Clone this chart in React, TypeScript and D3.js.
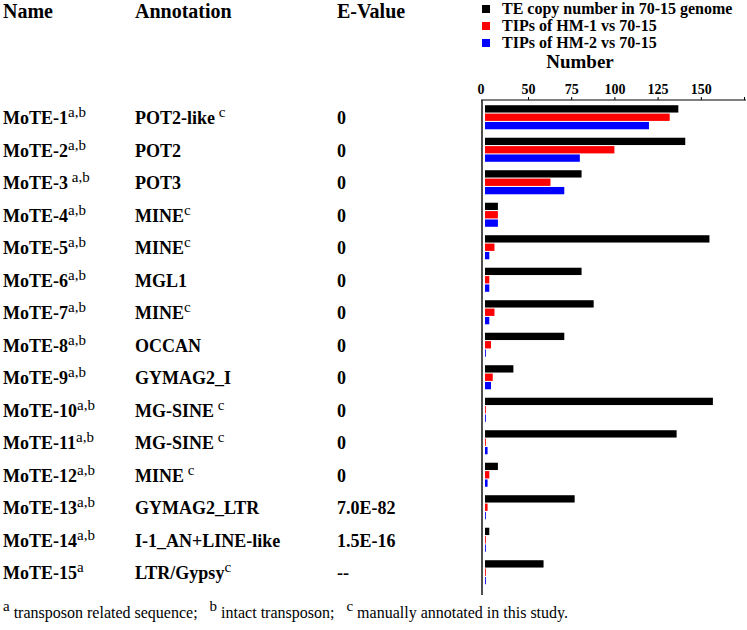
import React, { useEffect, useRef } from "react"
import * as d3 from "d3"

// rows of the table
const names = ["MoTE-1", "MoTE-2", "MoTE-3", "MoTE-4", "MoTE-5", "MoTE-6", "MoTE-7", "MoTE-8",
  "MoTE-9", "MoTE-10", "MoTE-11", "MoTE-12", "MoTE-13", "MoTE-14", "MoTE-15"]
const nameSup = ["a,b", "a,b", " a,b", "a,b", "a,b", "a,b", "a,b", "a,b", "a,b", "a,b", "a,b", "a,b", "a,b", "a,b", "a"]
const annotations = ["POT2-like", "POT2", "POT3", "MINE", "MINE", "MGL1", "MINE", "OCCAN", "GYMAG2_I",
  "MG-SINE", "MG-SINE", "MINE", "GYMAG2_LTR", "I-1_AN+LINE-like", "LTR/Gypsy"]
const annotSup = [" c", "", "", "c", "c", "", "c", "", "", " c", " c", " c", "", "", "c"]
const evalues = ["0", "0", "0", "0", "0", "0", "0", "0", "0", "0", "0", "0", "7.0E-82", "1.5E-16", "--"]

// bars
const series = ["TE copy number in 70-15 genome", "TIPs of HM-1 vs 70-15", "TIPs of HM-2 vs 70-15"]
const copyNumber = [137, 141, 81, 15, 155, 81, 88, 71, 33, 157, 136, 15, 77, 5, 59]
const tipsHM1 = [132, 100, 63, 15, 11, 5, 11, 7, 9, 1, 1, 5, 3, 1, 1]
const tipsHM2 = [120, 80, 71, 15, 5, 5, 5, 1, 7, 1, 3, 3, 1, 1, 1]
const colors = ["#000000", "#ff0000", "#0000ff"]
const tickValues = [0, 50, 75, 100, 125, 150, 175]

const serif = "'Liberation Serif', 'Times New Roman', serif"

export default function App() {
  const ref = useRef<SVGSVGElement>(null)

  useEffect(() => {
    const svg = d3.select(ref.current)
    svg.selectAll("*").remove()

    // the axis of the original is broken: 0..50 squeezed, then 25 per step
    const x = d3.scaleLinear().domain([0, 50, 175]).range([485, 528, 744])
    const y = d3.scaleBand<string>()
      .domain(names)
      .range([101, 588.5])
      .paddingInner(0.26)
      .paddingOuter(0.13)
    const sub = d3.scaleBand<number>()
      .domain([0, 1, 2])
      .range([0, y.bandwidth()])
      .paddingInner(0.125)

    // headers
    const head = svg.append("g")
      .style("font-family", serif)
      .style("font-weight", "bold")
      .style("font-size", "20px")
    head.append("text").attr("x", 3).attr("y", 18).text("Name")
    head.append("text").attr("x", 135).attr("y", 18).text("Annotation")
    head.append("text").attr("x", 337).attr("y", 18).text("E-Value")

    // legend
    const legend = svg.append("g")
      .style("font-family", serif)
      .style("font-weight", "bold")
      .style("font-size", "16px")
    series.forEach((s, i) => {
      legend.append("rect")
        .attr("x", 482).attr("y", 5 + i * 17)
        .attr("width", 8).attr("height", 8)
        .attr("fill", colors[i])
      legend.append("text")
        .attr("x", 502).attr("y", 14 + i * 17)
        .text(s)
    })
    svg.append("text")
      .attr("x", 580).attr("y", 68)
      .attr("text-anchor", "middle")
      .style("font-family", serif)
      .style("font-weight", "bold")
      .style("font-size", "19px")
      .text("Number")

    // axes
    const axis = d3.axisTop(x)
      .tickValues(tickValues)
      .tickSize(3)
      .tickSizeOuter(0)
      .tickPadding(3)
      .tickFormat(d => (d === 175 ? "" : String(d)))
    const ax = svg.append("g")
      .attr("transform", "translate(0,100)")
      .call(axis)
    ax.select(".domain").remove()
    ax.selectAll("text")
      .attr("font-family", serif)
      .attr("font-weight", "bold")
      .attr("font-size", 14)
      .attr("fill", "#000")
    ax.selectAll(".tick")
      .filter(d => d === 0)
      .attr("transform", "translate(481,0)")
      .select("line").remove()
    svg.append("line")
      .attr("x1", 481).attr("x2", 746)
      .attr("y1", 100).attr("y2", 100)
      .attr("stroke", "#000").attr("stroke-width", 1.2)
    svg.append("line")
      .attr("x1", 482).attr("x2", 482)
      .attr("y1", 100).attr("y2", 595)
      .attr("stroke", "#222").attr("stroke-width", 1.6)

    // rows
    const rows = svg.selectAll("g.row")
      .data(names)
      .enter()
      .append("g")
      .attr("class", "row")
      .attr("transform", d => "translate(0," + y(d) + ")")
      .style("font-family", serif)

    const nameText = rows.append("text")
      .attr("x", 3).attr("y", 19)
      .style("font-size", "18px")
    nameText.append("tspan").style("font-weight", "bold").text(d => d)
    nameText.append("tspan")
      .attr("dy", -7)
      .style("font-size", "15px")
      .text((d, i) => nameSup[i])

    const annText = rows.append("text")
      .attr("x", 135).attr("y", 19)
      .style("font-size", "18px")
    annText.append("tspan").style("font-weight", "bold").text((d, i) => annotations[i])
    annText.append("tspan")
      .attr("dy", -7)
      .style("font-size", "15px")
      .text((d, i) => annotSup[i])

    rows.append("text")
      .attr("x", 337).attr("y", 19)
      .style("font-size", "18px")
      .style("font-weight", "bold")
      .text((d, i) => evalues[i])

    const values = [copyNumber, tipsHM1, tipsHM2]
    values.forEach((vals, s) => {
      rows.append("rect")
        .attr("x", x(0))
        .attr("y", sub(s))
        .attr("height", sub.bandwidth())
        .attr("width", (d, i) => x(vals[i]) - x(0))
        .attr("fill", colors[s])
        .append("title")
        .text((d, i) => series[s] + ": " + vals[i])
    })

    // footnote
    const foot = svg.append("text")
      .attr("x", 3).attr("y", 618)
      .style("font-family", serif)
      .style("font-size", "16px")
    const notes = [["a", " transposon related sequence;"], ["b", " intact transposon;"], ["c", " manually annotated in this study."]]
    notes.forEach(([sup, txt], i) => {
      foot.append("tspan").attr("dy", -7).attr("dx", i === 0 ? 0 : 12).style("font-size", "15px").text(sup)
      foot.append("tspan").attr("dy", 7).attr("xml:space", "preserve").text(txt)
    })
  }, [])

  return (
    <svg ref={ref} width={747} height={630}
      style={{ position: "absolute", left: 0, top: 0, background: "#fff" }} />
  )
}
